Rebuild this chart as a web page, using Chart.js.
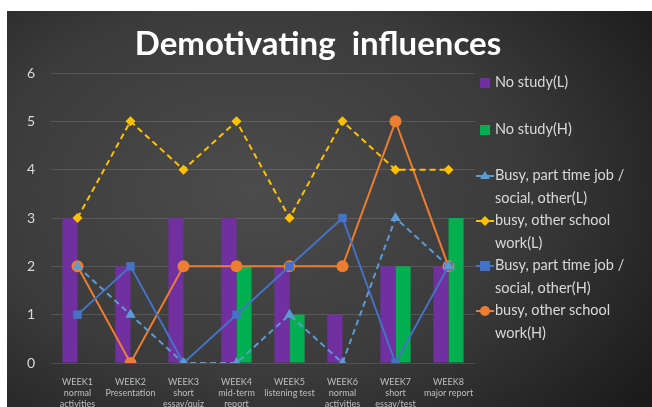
<!DOCTYPE html>
<html lang="en">
<head>
<meta charset="UTF-8">
<title>Demotivating influences</title>
<script src="https://cdn.jsdelivr.net/npm/chart.js"></script>
<style>
  html, body { margin: 0; padding: 0; background: #fff; }
  #frame {
    position: absolute; left: 7px; top: 11px; width: 645px; height: 396px;
    background: radial-gradient(ellipse 75% 85% at 38% 45%, #4c4c4c 0%, #3b3b3b 55%, #1c1c1c 100%);
    overflow: hidden;
  }
  #chart { position: absolute; left: 0; top: 0; }
  #title {
    position: absolute; left: 0; top: 11px; width: 622px; text-align: center;
    font-family: "Lato", sans-serif; font-weight: bold; font-size: 33px; color: #fff;
    white-space: pre;
  }
  #legend {
    position: absolute; left: 469px; top: 60px; width: 175px;
    font-family: "Lato", "Open Sans", sans-serif; font-size: 14.5px; color: #d9d9d9;
    line-height: 22.5px;
  }
  .item { position: relative; padding-left: 19px; }
  .mk { position: absolute; left: 0; top: 6px; width: 18px; height: 11px; }
</style>
</head>
<body>
<div id="frame">
  <canvas id="chart" width="645" height="396"></canvas>
  <div id="title">Demotivating  influences</div>
  <div id="legend"></div>
</div>
<script>
// chart data
const weeks = [
  ["WEEK1", "normal", "activities"],
  ["WEEK2", "Presentation"],
  ["WEEK3", "short", "essay/quiz"],
  ["WEEK4", "mid-term", "report"],
  ["WEEK5", "listening test"],
  ["WEEK6", "normal", "activities"],
  ["WEEK7", "short", "essay/test"],
  ["WEEK8", "major report"]
];
const noStudyL = [3, 2, 3, 3, 2, 1, 2, 2];
const noStudyH = [0, 0, 0, 2, 1, 0, 2, 3];
const busyJobL = [2, 1, 0, 0, 1, 0, 3, 2];
const busySchoolL = [3, 5, 4, 5, 3, 5, 4, 4];
const busyJobH = [1, 2, 0, 1, 2, 3, 0, 2];
const busySchoolH = [2, 0, 2, 2, 2, 2, 5, 2];
const yTicks = [0, 1, 2, 3, 4, 5, 6];

const series = [
  { label: "No study(L)", type: "bar", data: noStudyL, color: "#7030A0" },
  { label: "No study(H)", type: "bar", data: noStudyH, color: "#00B050" },
  { label: "Busy, part time job / social, other(L)", type: "line", data: busyJobL, color: "#5B9BD5", style: "triangle", dash: [6, 4], r: 6 },
  { label: "busy, other school work(L)", type: "line", data: busySchoolL, color: "#FFC000", style: "rectRot", dash: [6, 4], r: 5 },
  { label: "Busy, part time job / social, other(H)", type: "line", data: busyJobH, color: "#4472C4", style: "rect", dash: [], r: 6 },
  { label: "busy, other school work(H)", type: "line", data: busySchoolH, color: "#ED7D31", style: "circle", dash: [], r: 6 }
];

const datasets = series.map(s => s.type === "bar" ? {
  type: "bar", label: s.label, data: s.data, backgroundColor: s.color,
  categoryPercentage: 0.57, barPercentage: 1, order: 10
} : {
  type: "line", label: s.label, data: s.data, borderColor: s.color, backgroundColor: s.color,
  borderWidth: 2, borderDash: s.dash, pointStyle: s.style, pointRadius: s.r,
  pointBorderWidth: 0, tension: 0, fill: false, order: 1
});

new Chart("chart", {
  data: { labels: weeks, datasets: datasets },
  options: {
    responsive: false,
    animation: false,
    layout: { padding: { left: 0, right: 177, top: 62, bottom: 0 } },
    plugins: {
      legend: { display: false },
      tooltip: { enabled: false }
    },
    scales: {
      x: {
        grid: { display: false },
        border: { display: false },
        ticks: { color: "#bfbfbf", font: { family: "Lato", size: 9 }, maxRotation: 0, autoSkip: false, padding: 6 },
        afterFit: s => { s.height = 44; }
      },
      y: {
        min: 0, max: 6,
        afterBuildTicks: s => { s.ticks = yTicks.map(v => ({ value: v })); },
        grid: { color: "rgba(255,255,255,0.13)", lineWidth: 1, drawTicks: false },
        border: { display: false },
        ticks: { color: "#d9d9d9", font: { family: "Lato", size: 14 }, padding: 16 },
        afterFit: s => { s.width = 44; }
      }
    }
  }
});

// html legend
function marker(s) {
  const c = document.createElement("canvas");
  c.width = 18; c.height = 11; c.className = "mk";
  const g = c.getContext("2d");
  g.fillStyle = s.color; g.strokeStyle = s.color;
  if (s.type === "bar") { g.fillRect(4, 1, 10, 10); return c; }
  g.lineWidth = 2; g.beginPath(); g.moveTo(0, 6); g.lineTo(18, 6); g.stroke();
  g.beginPath();
  if (s.style === "triangle") { g.moveTo(9, 1); g.lineTo(14, 9); g.lineTo(4, 9); }
  else if (s.style === "rectRot") { g.moveTo(9, 1); g.lineTo(14, 6); g.lineTo(9, 11); g.lineTo(4, 6); }
  else if (s.style === "rect") { g.rect(4, 1, 10, 10); }
  else { g.arc(9, 6, 5, 0, Math.PI * 2); }
  g.fill();
  return c;
}
const lg = document.getElementById("legend");
const gaps = [0, 24, 24, 0, 0, 0];
series.forEach((s, i) => {
  const d = document.createElement("div");
  d.className = "item";
  d.style.marginTop = gaps[i] + "px";
  d.appendChild(marker(s));
  const t = document.createElement("span");
  t.textContent = s.label;
  d.appendChild(t);
  lg.appendChild(d);
});
</script>
</body>
</html>
